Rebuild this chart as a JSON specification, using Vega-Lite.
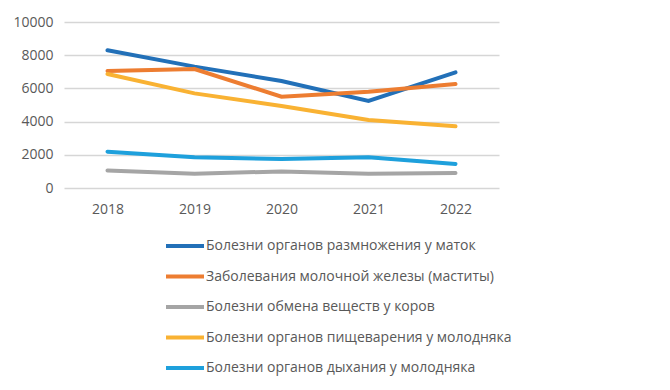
{
  "$schema": "https://vega.github.io/schema/vega-lite/v6.json",
  "autosize": "none",
  "width": 435,
  "height": 166,
  "padding": {"left": 64, "top": 22, "right": 171, "bottom": 202},
  "background": "white",
  "config": {
    "view": {"stroke": null},
    "font": "Open Sans",
    "axis": {"labelColor": "#595959", "labelFontSize": 14, "title": null, "domain": false, "ticks": false}
  },
  "data": {
    "values": [
      {"year": "2018", "s": "Болезни органов размножения у маток", "v": 8300},
      {"year": "2019", "s": "Болезни органов размножения у маток", "v": 7310},
      {"year": "2020", "s": "Болезни органов размножения у маток", "v": 6450},
      {"year": "2021", "s": "Болезни органов размножения у маток", "v": 5240},
      {"year": "2022", "s": "Болезни органов размножения у маток", "v": 6970},
      {"year": "2018", "s": "Заболевания молочной железы (маститы)", "v": 7050},
      {"year": "2019", "s": "Заболевания молочной железы (маститы)", "v": 7170},
      {"year": "2020", "s": "Заболевания молочной железы (маститы)", "v": 5500},
      {"year": "2021", "s": "Заболевания молочной железы (маститы)", "v": 5800},
      {"year": "2022", "s": "Заболевания молочной железы (маститы)", "v": 6265},
      {"year": "2018", "s": "Болезни обмена веществ у коров", "v": 1060},
      {"year": "2019", "s": "Болезни обмена веществ у коров", "v": 860},
      {"year": "2020", "s": "Болезни обмена веществ у коров", "v": 1000},
      {"year": "2021", "s": "Болезни обмена веществ у коров", "v": 860},
      {"year": "2022", "s": "Болезни обмена веществ у коров", "v": 900},
      {"year": "2018", "s": "Болезни органов пищеварения у молодняка", "v": 6870},
      {"year": "2019", "s": "Болезни органов пищеварения у молодняка", "v": 5700},
      {"year": "2020", "s": "Болезни органов пищеварения у молодняка", "v": 4940},
      {"year": "2021", "s": "Болезни органов пищеварения у молодняка", "v": 4100},
      {"year": "2022", "s": "Болезни органов пищеварения у молодняка", "v": 3720},
      {"year": "2018", "s": "Болезни органов дыхания у молодняка", "v": 2190},
      {"year": "2019", "s": "Болезни органов дыхания у молодняка", "v": 1850},
      {"year": "2020", "s": "Болезни органов дыхания у молодняка", "v": 1750},
      {"year": "2021", "s": "Болезни органов дыхания у молодняка", "v": 1850},
      {"year": "2022", "s": "Болезни органов дыхания у молодняка", "v": 1450}
    ]
  },
  "mark": {"type": "line", "strokeWidth": 4, "strokeCap": "round"},
  "encoding": {
    "x": {
      "field": "year", "type": "ordinal",
      "scale": {"type": "point", "padding": 0.5},
      "axis": {"labelAngle": 0, "grid": false, "labelPadding": 14}
    },
    "y": {
      "field": "v", "type": "quantitative",
      "scale": {"domain": [0, 10000], "nice": false},
      "axis": {"values": [0, 2000, 4000, 6000, 8000, 10000], "grid": true, "gridColor": "#D6D6D6", "gridWidth": 1.3, "labelPadding": 11, "format": "d"}
    },
    "color": {
      "field": "s", "type": "nominal",
      "scale": {
        "domain": ["Болезни органов размножения у маток", "Заболевания молочной железы (маститы)", "Болезни обмена веществ у коров", "Болезни органов пищеварения у молодняка", "Болезни органов дыхания у молодняка"],
        "range": ["#2270B8", "#ED7D31", "#A5A5A5", "#F9B233", "#1EA0DC"]
      },
      "legend": {
        "title": null,
        "orient": "none",
        "legendX": 100,
        "legendY": 203,
        "direction": "vertical",
        "symbolType": "stroke",
        "symbolStrokeWidth": 4,
        "symbolSize": 1444,
        "labelFontSize": 14,
        "labelColor": "#595959",
        "labelOffset": 0,
        "rowPadding": 1.5,
        "labelLimit": 400
      }
    }
  }
}
